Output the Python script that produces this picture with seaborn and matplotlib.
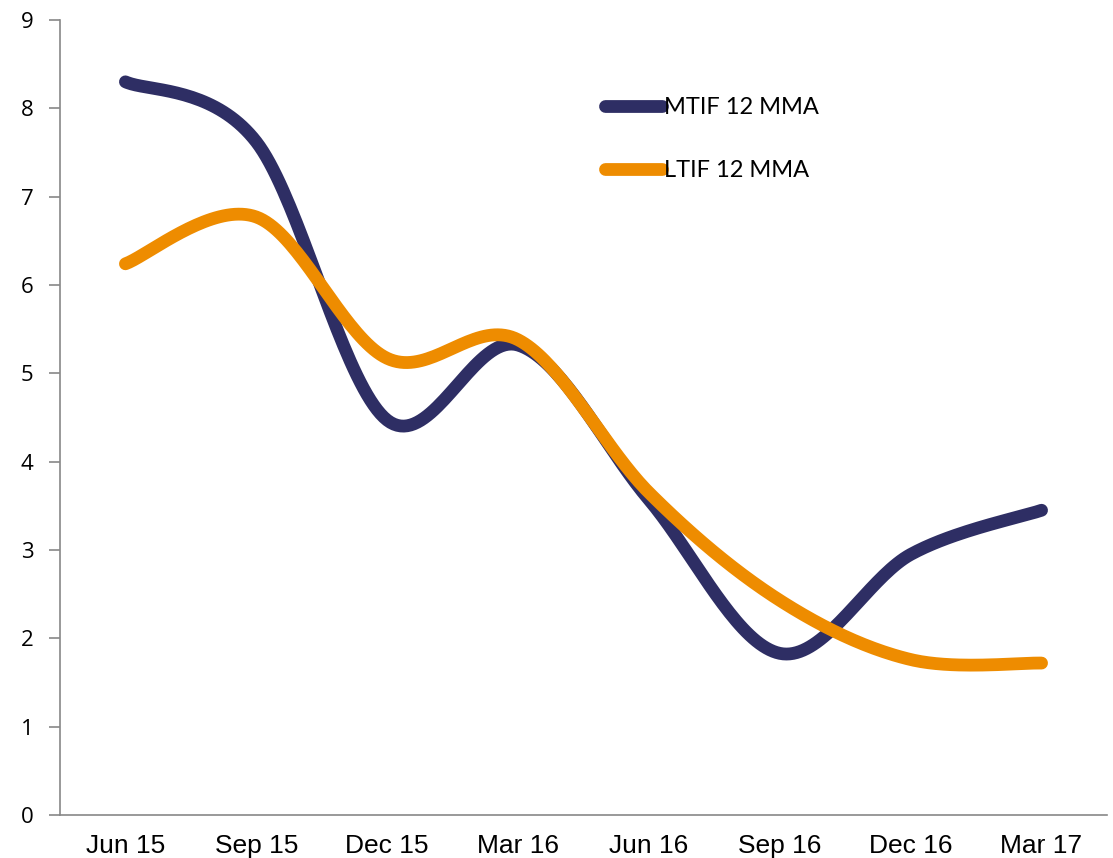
import numpy as np
import pandas as pd
import seaborn as sns
import matplotlib.pyplot as plt

# values
quarters = ['Jun 15', 'Sep 15', 'Dec 15', 'Mar 16', 'Jun 16', 'Sep 16', 'Dec 16', 'Mar 17']
mtif = [8.3, 7.62, 4.47, 5.32, 3.57, 1.83, 2.95, 3.45]
ltif = [6.24, 6.77, 5.17, 5.38, 3.65, 2.43, 1.76, 1.72]
series_names = ['MTIF 12 MMA', 'LTIF 12 MMA']
colors = ['#2E2E64', '#EE8C00']


def smooth(xs, ys, n=40):
    # excel style smoothed line: bezier through the points (catmull-rom control points)
    p = np.column_stack([xs, ys]).astype(float)
    p = np.vstack([p[0], p, p[-1]])
    out = []
    t = np.linspace(0, 1, n)[:, None]
    for i in range(1, len(p) - 2):
        p0, p1, p2, p3 = p[i - 1], p[i], p[i + 1], p[i + 2]
        c1 = p1 + (p2 - p0) / 6
        c2 = p2 - (p3 - p1) / 6
        seg = (1 - t) ** 3 * p1 + 3 * (1 - t) ** 2 * t * c1 + 3 * (1 - t) * t ** 2 * c2 + t ** 3 * p2
        out.append(seg if i == 1 else seg[1:])
    return np.vstack(out)


frames = []
for name, vals in zip(series_names, [mtif, ltif]):
    curve = smooth(np.arange(len(quarters)), vals)
    frames.append(pd.DataFrame({'x': curve[:, 0], 'y': curve[:, 1], 'series': name}))
df = pd.concat(frames, ignore_index=True)

sns.set_style('white')
plt.rcParams['text.color'] = 'black'
plt.rcParams['xtick.labelcolor'] = 'black'
plt.rcParams['ytick.labelcolor'] = 'black'
fig = plt.figure(figsize=(11.13, 8.58), dpi=100)
ax = fig.add_axes([0.0539, 0.0501, 0.9407, 0.9266])

sns.lineplot(data=df, x='x', y='y', hue='series', palette=colors, sort=False,
             linewidth=9.2, legend=False, ax=ax)
for ln in ax.lines:
    ln.set_solid_capstyle('round')

ax.set_xlim(-0.5, len(quarters) - 0.5)
ax.set_ylim(0, 9)
ax.set_yticks(range(0, 10))
ax.set_yticklabels([str(v) for v in range(0, 10)], fontsize=16, family='Open Sans')
ax.set_xticks(range(len(quarters)))
ax.set_xticklabels(quarters, fontsize=19, family='Liberation Sans')
ax.set_xticks(np.arange(-0.5, len(quarters)), minor=True)
ax.tick_params(axis='x', which='major', length=0, pad=14)
ax.tick_params(axis='x', which='minor', length=8, color='#888888', width=1.2)
ax.tick_params(axis='y', length=8, color='#888888', width=1.2, pad=11, left=True)
ax.set_xlabel('')
ax.set_ylabel('')

for s in ['top', 'right']:
    ax.spines[s].set_visible(False)
for s in ['left', 'bottom']:
    ax.spines[s].set_color('#888888')
    ax.spines[s].set_linewidth(1.2)

ax.legend(ax.lines, series_names, loc='upper left', bbox_to_anchor=(0.544, 0.887),
          bbox_transform=fig.transFigure, frameon=False, borderpad=0, borderaxespad=0,
          handlelength=2.4, handletextpad=0.1, labelspacing=1.78,
          prop={'family': 'Lato', 'size': 17})

fig.savefig('out.png', dpi=100)
